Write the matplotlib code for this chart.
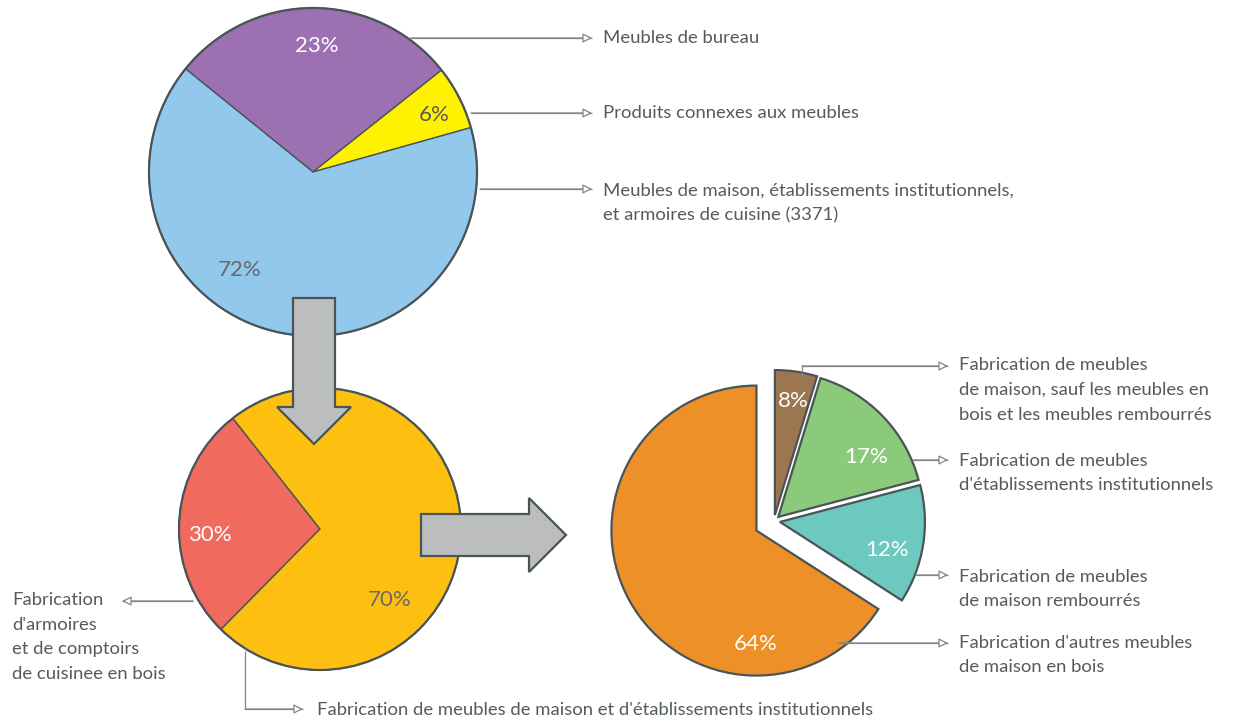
import matplotlib.pyplot as plt
from matplotlib.patches import Polygon, Circle

plt.rcParams['font.family'] = ['Lato', 'DejaVu Sans']

W, H = 1238, 721

# top pie: furniture manufacturing (337)
top_shares = [28.5, 6.3, 65.2]
top_pct = ['23%', '6%', '72%']
top_names = ['Meubles de bureau',
             'Produits connexes aux meubles',
             'Meubles de maison, établissements institutionnels,\net armoires de cuisine (3371)']
top_colors = ['#9b71b1', '#fff200', '#92c8ec']

# bottom-left pie: 3371
mid_shares = [27.0, 73.0]
mid_pct = ['30%', '70%']
mid_names = ["Fabrication\nd'armoires\net de comptoirs\nde cuisinee en bois",
             "Fabrication de meubles de maison et d'établissements institutionnels"]
mid_colors = ['#f06b5e', '#fdc010']

# right pie: 33712
right_shares = [65.9, 13.2, 16.2, 4.7]
right_pct = ['64%', '12%', '17%', '8%']
right_names = ["Fabrication d'autres meubles\nde maison en bois",
               'Fabrication de meubles\nde maison rembourrés',
               "Fabrication de meubles\nd'établissements institutionnels",
               'Fabrication de meubles\nde maison, sauf les meubles en\nbois et les meubles rembourrés']
right_colors = ['#ee9028', '#6dc9c0', '#8cca7b', '#9c7650']

EDGE = '#4a5456'
LEAD = '#7d8787'
TXT = '#535b5d'


def Y(y):
    return H - y


fig = plt.figure(figsize=(12.38, 7.21), dpi=100)
ax = fig.add_axes([0, 0, 1, 1])

wp = dict(edgecolor=EDGE, linewidth=1.0)

# pies
ax.pie(top_shares, colors=top_colors, startangle=141, counterclock=False,
       center=(313, Y(172)), radius=164, wedgeprops=wp)
ax.add_patch(Circle((313, Y(172)), 164, fill=False, ec=EDGE, lw=1.6, zorder=3))

ax.pie(mid_shares, colors=mid_colors, startangle=128.2, counterclock=True,
       center=(320, Y(529)), radius=141, wedgeprops=wp)
ax.add_patch(Circle((320, Y(529)), 141, fill=False, ec=EDGE, lw=1.6, zorder=3))

ax.pie(right_shares, colors=right_colors, startangle=90, counterclock=True,
       center=(774, Y(521)), radius=145, explode=[20, 6, 6, 6],
       wedgeprops=dict(edgecolor=EDGE, linewidth=1.6))

# percentage labels
pct_style = dict(fontsize=16, ha='center', va='center', zorder=6)
top_pos = [(317, 46), (434, 115), (240, 270)]
top_tc = ['white', '#5a5a5a', '#686868']
for s, (x, y), c in zip(top_pct, top_pos, top_tc):
    ax.text(x, Y(y), s, color=c, **pct_style)

mid_pos = [(210, 535), (390, 600)]
mid_tc = ['white', '#6a6a6a']
for s, (x, y), c in zip(mid_pct, mid_pos, mid_tc):
    ax.text(x, Y(y), s, color=c, **pct_style)

right_pos = [(756, 644), (887, 550), (866, 457), (793, 401)]
for s, (x, y) in zip(right_pct, right_pos):
    ax.text(x, Y(y), s, color='white', **pct_style)

# big grey arrows
down = [(293, 298), (335, 298), (335, 407), (351, 407), (314, 444),
        (277, 407), (293, 407)]
right = [(421, 514), (529, 514), (529, 498), (566, 535), (529, 572),
         (529, 556), (421, 556)]
for pts in (down, right):
    ax.add_patch(Polygon([(x, Y(y)) for x, y in pts], closed=True,
                         fc='#bcbdbf', ec=EDGE, lw=1.6, zorder=5))

# leader lines
arrow = dict(arrowstyle='-|>,head_length=0.55,head_width=0.28', color=LEAD,
             fc='white', lw=0.9, shrinkA=0, shrinkB=0)


def leader(path, tip):
    xs = [p[0] for p in path] + [tip[0]]
    ys = [Y(p[1]) for p in path] + [Y(tip[1])]
    ax.plot(xs, ys, color=LEAD, lw=0.9, zorder=4, solid_capstyle='butt')
    last = path[-1]
    ax.annotate('', xy=(tip[0], Y(tip[1])), xytext=(last[0], Y(last[1])),
                arrowprops=arrow, zorder=4)


lab = dict(fontsize=13.3, color=TXT, va='center', ha='left', linespacing=1.69)

# top pie labels
top_lines = [[(410, 38)], [(471, 113)], [(480, 189)]]
top_text_y = [38, 113, 203]
for path, ty, name in zip(top_lines, top_text_y, top_names):
    leader(path, (592, path[-1][1]))
    ax.text(603, Y(ty), name, **lab)

# right pie labels
right_lines = [[(838, 643)], [(916, 575)], [(913, 460)],
               [(802, 377), (802, 366)]]
right_text_y = [655, 589, 473, 390]
for path, ty, name in zip(right_lines, right_text_y, right_names):
    leader(path, (948, path[-1][1]))
    ax.text(959, Y(ty), name, **lab)

# bottom-left pie labels
leader([(193, 601)], (122, 601))
ax.text(12, Y(637), mid_names[0], **lab)
leader([(245, 651), (245, 709)], (303, 709))
ax.text(317, Y(710), mid_names[1], **lab)

ax.set_xlim(0, W)
ax.set_ylim(0, H)
ax.set_aspect('equal')
ax.axis('off')

fig.savefig('out.png', dpi=100, facecolor='white')
